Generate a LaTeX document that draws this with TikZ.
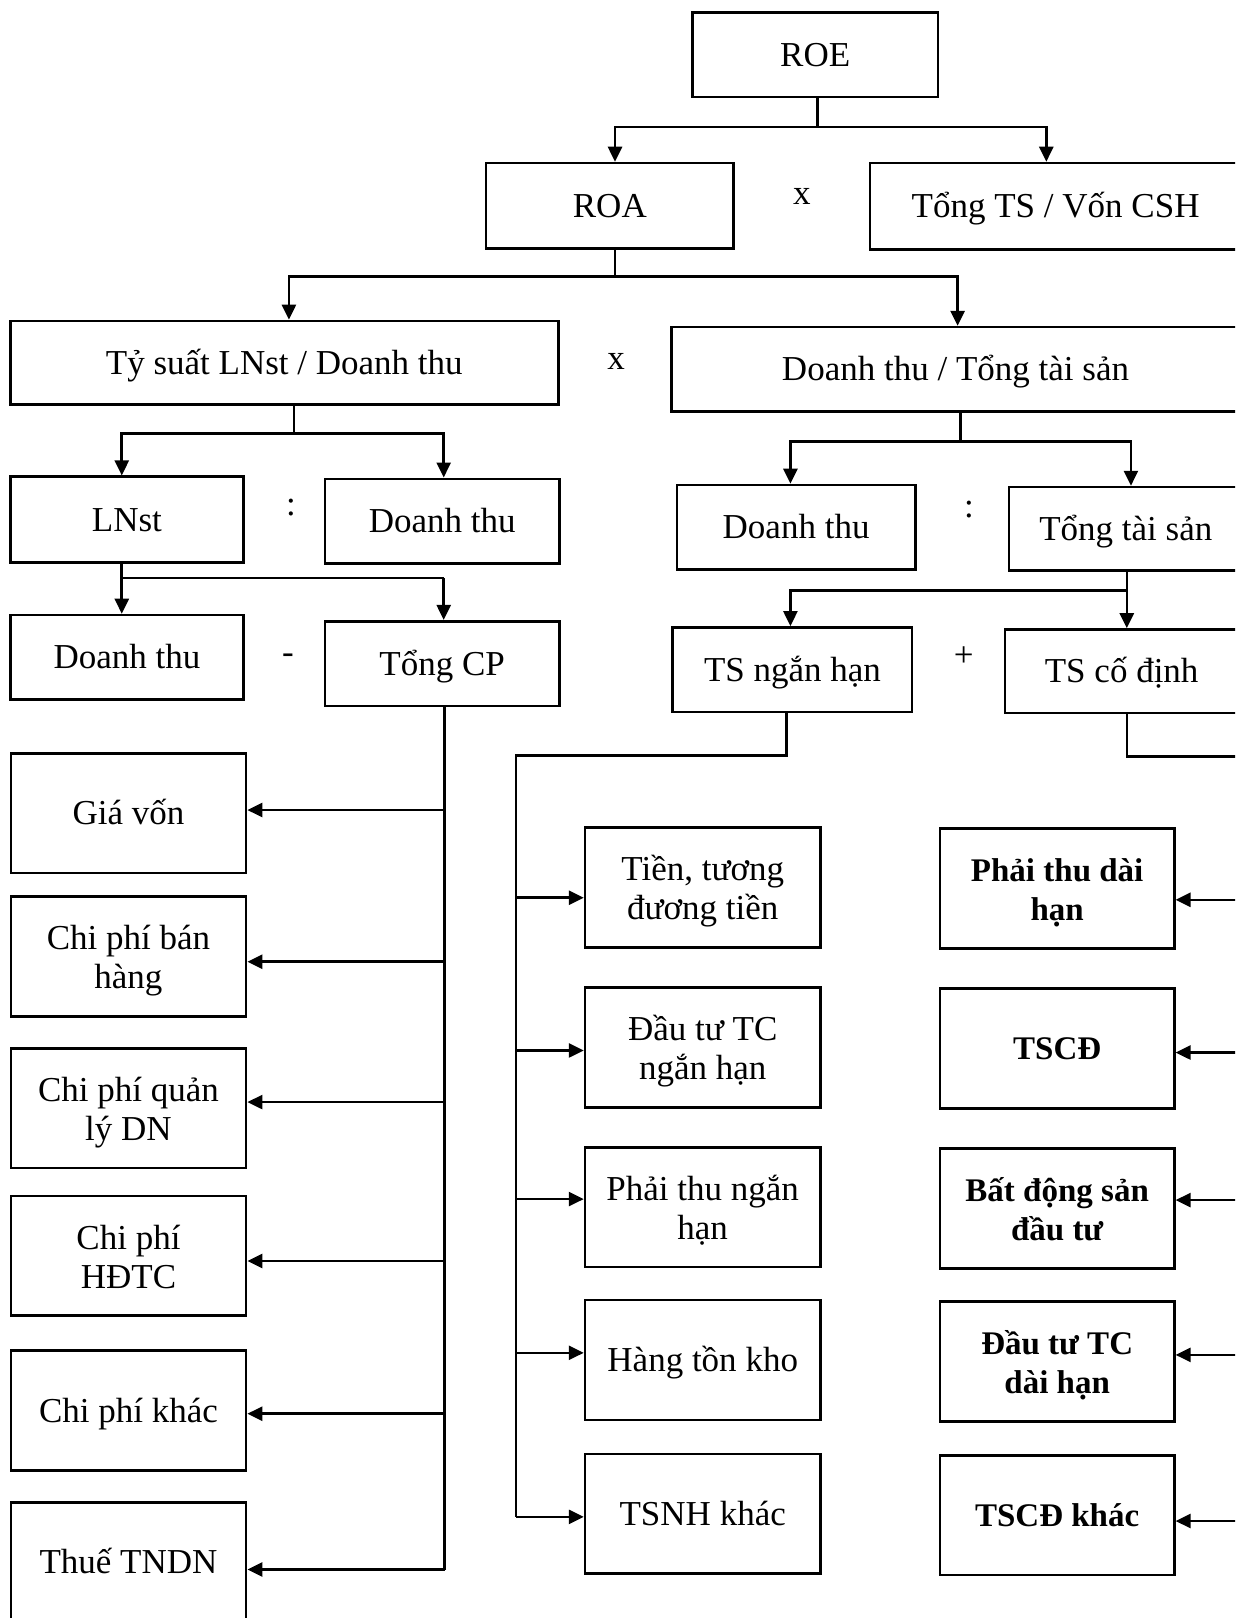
\documentclass[tikz,border=0pt]{standalone}
\usepackage{fontspec}
\setmainfont{Liberation Serif}
\usetikzlibrary{arrows.meta}
\newcommand{\twol}[2]{\raisebox{-2.5pt}[\height][\depth]{\begin{tabular}{@{}c@{}}#1\\#2\end{tabular}}}
\begin{document}
\begin{tikzpicture}[x=0.51585pt,y=-0.51585pt,
  box/.style={draw,line width=1.3pt,inner sep=0pt,font=\fontsize{17.5}{19.5}\selectfont},
  sbox/.style={box,text height=15.5pt,text depth=4pt},
  rbox/.style={box,font=\fontsize{16.5}{19.5}\selectfont\bfseries},
  srbox/.style={rbox,text height=15pt,text depth=4pt},
  sz/.style 2 args={minimum width=#1*0.51585pt,minimum height=#2*0.51585pt},
  op/.style={inner sep=0pt,font=\fontsize{17.5}{19.5}\selectfont},
  conn/.style={line width=1.3pt},
  arr/.style={conn,-{Triangle[length=7.5pt,width=7pt]}},
]
\useasboundingbox (0,0) rectangle (1197,1568);
\fill[white] (0,0) rectangle (1197,1568);
\clip (0,0) rectangle (1197,1568);

% top levels
\node[sbox,sz={238}{82}] (roe) at (790,53) {ROE};
\node[sbox,sz={240}{83}] (roa) at (591,199.5) {ROA};
\node[op] (x1) at (777,190) {x};
\node[sbox,sz={360}{84}] (tts) at (1023,200) {Tổng TS / Vốn CSH};
\node[sbox,sz={531}{81}] (tysuat) at (275.5,351.5) {Tỷ suất LNst / Doanh thu};
\node[op] (x2) at (597,350) {x};
\node[sbox,sz={550}{82}] (dtts) at (926,358) {Doanh thu / Tổng tài sản};
\node[sbox,sz={226}{83}] (lnst) at (123,503.5) {LNst};
\node[op] (o1) at (282,492) {:};
\node[sbox,sz={227}{82}] (dt1) at (428.5,505) {Doanh thu};
\node[sbox,sz={231}{82}] (dt3) at (771.5,511) {Doanh thu};
\node[op] (o2) at (939,494) {:};
\node[sbox,sz={226}{81}] (ttsan) at (1091,512.5) {Tổng tài sản};
\node[sbox,sz={226}{82}] (dt2) at (123,637) {Doanh thu};
\node[op] (o3) at (279,638) {-};
\node[sbox,sz={227}{82}] (tongcp) at (428.5,643) {Tổng CP};
\node[sbox,sz={232}{82}] (tsnh) at (768,649) {TS ngắn hạn};
\node[op] (o4) at (934,636) {+};
\node[sbox,sz={226}{81}] (tscd) at (1087,650.5) {TS cố định};

% left column
\node[sbox,sz={228}{116}] (gv) at (124.5,788) {Giá vốn};
\node[box,sz={228}{116}] (cpbh) at (124.5,927) {\twol{Chi phí bán}{hàng}};
\node[box,sz={228}{116}] (cpql) at (124.5,1074) {\twol{Chi phí quản}{lý DN}};
\node[box,sz={228}{116}] (hdtc) at (124.5,1217) {\twol{Chi phí}{HĐTC}};
\node[sbox,sz={228}{116}] (cpk) at (124.5,1367) {Chi phí khác};
\node[sbox,sz={228}{116}] (thue) at (124.5,1514) {Thuế TNDN};

% middle column
\node[box,sz={228}{116}] (tien) at (681,860) {\twol{Tiền, tương}{đương tiền}};
\node[box,sz={228}{116}] (dtnh) at (681,1015) {\twol{Đầu tư TC}{ngắn hạn}};
\node[box,sz={228}{116}] (ptnh) at (681,1170) {\twol{Phải thu ngắn}{hạn}};
\node[sbox,sz={228}{116}] (htk) at (681,1318) {Hàng tồn kho};
\node[sbox,sz={228}{116}] (tsnhk) at (681,1467) {TSNH khác};

% right column
\node[rbox,sz={227}{116}] (ptdh) at (1024.5,861) {\twol{Phải thu dài}{hạn}};
\node[srbox,sz={227}{116}] (tscdd) at (1024.5,1016) {TSCĐ};
\node[rbox,sz={227}{116}] (bds) at (1024.5,1171) {\twol{Bất động sản}{đầu tư}};
\node[rbox,sz={227}{116}] (dtdh) at (1024.5,1319.5) {\twol{Đầu tư TC}{dài hạn}};
\node[srbox,sz={227}{116}] (tscdk) at (1024.5,1468.5) {TSCĐ khác};

% ROE -> ROA, TTS
\coordinate (b1) at (792,123);
\coordinate (b1l) at (596,123);
\coordinate (b1r) at (1014,123);
\draw[conn] (roe.south -| b1) -- (b1);
\draw[arr] (b1) -- (b1l) -- (b1l |- roa.north);
\draw[arr] (b1) -- (b1r) -- (b1r |- tts.north);

% ROA -> tysuat, dtts
\coordinate (b2) at (596,268);
\coordinate (b2l) at (280,268);
\coordinate (b2r) at (928,268);
\draw[conn] (roa.south -| b2) -- (b2);
\draw[arr] (b2) -- (b2l) -- (b2l |- tysuat.north);
\draw[arr] (b2) -- (b2r) -- (b2r |- dtts.north);

% tysuat -> lnst, dt1
\coordinate (b3) at (285,420);
\coordinate (b3l) at (118,420);
\coordinate (b3r) at (430,420);
\draw[conn] (tysuat.south -| b3) -- (b3);
\draw[arr] (b3) -- (b3l) -- (b3l |- lnst.north);
\draw[arr] (b3) -- (b3r) -- (b3r |- dt1.north);

% lnst -> dt2, tongcp
\coordinate (b4l) at (118,560);
\coordinate (b4r) at (430,560);
\draw[conn] (lnst.south -| b4l) -- (b4l) -- (b4r);
\draw[arr] (b4l) -- (b4l |- dt2.north);
\draw[arr] (b4r) -- (b4r |- tongcp.north);

% dtts -> dt3, ttsan
\coordinate (b5) at (931,428);
\coordinate (b5l) at (766,428);
\coordinate (b5r) at (1096,428);
\draw[conn] (dtts.south -| b5) -- (b5);
\draw[arr] (b5) -- (b5l) -- (b5l |- dt3.north);
\draw[arr] (b5) -- (b5r) -- (b5r |- ttsan.north);

% ttsan -> tsnh, tscd
\coordinate (b6) at (1092,572);
\coordinate (b6l) at (766,572);
\draw[arr] (ttsan.south -| b6) -- (b6 |- tscd.north);
\draw[arr] (b6) -- (b6l) -- (b6l |- tsnh.north);

% tongcp -> left column
\coordinate (b7) at (431,1521);
\draw[conn] (tongcp.south -| b7) -- (b7);
\foreach \n/\y in {gv/785,cpbh/932,cpql/1068,hdtc/1222,cpk/1370,thue/1521}{
  \coordinate (p) at (431,\y);
  \draw[arr] (p) -- (p -| \n.east);
}

% tsnh -> middle column
\coordinate (b8) at (762,732);
\coordinate (b8l) at (500,732);
\coordinate (b8b) at (500,1470);
\draw[conn] (tsnh.south -| b8) -- (b8) -- (b8l) -- (b8b);
\foreach \n/\y in {tien/870,dtnh/1018,ptnh/1162,htk/1311,tsnhk/1470}{
  \coordinate (q) at (500,\y);
  \draw[arr] (q) -- (q -| \n.west);
}

% tscd -> right column
\coordinate (b9) at (1092,733);
\coordinate (b9r) at (1212,733);
\coordinate (b9b) at (1212,1474);
\draw[conn] (tscd.south -| b9) -- (b9) -- (b9r) -- (b9b);
\foreach \n/\y in {ptdh/872,tscdd/1020,bds/1163,dtdh/1313,tscdk/1474}{
  \coordinate (r) at (1212,\y);
  \draw[arr] (r) -- (r -| \n.east);
}
\end{tikzpicture}
\end{document}
